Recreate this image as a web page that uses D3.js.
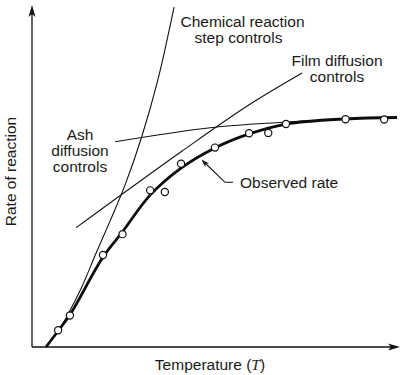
<!DOCTYPE html>
<html>
<head>
<meta charset="utf-8">
<script src="https://cdn.jsdelivr.net/npm/d3@7"></script>
<style>
  body { margin: 0; background: #fff; }
  text { font-family: "Liberation Sans", Arial, sans-serif; font-size: 15.5px; fill: #1a1a1a; }
</style>
</head>
<body>
<div id="chart"></div>
<script>
// Temperature / rate in arbitrary units (0-100 on both axes)
const observedPoints = [
  [7.1, 4.9], [10.3, 9.2], [19.3, 26.9], [24.6, 33.0], [32.1, 45.8], [36.1, 45.3],
  [40.5, 53.6], [49.7, 58.3], [59.0, 62.5], [64.2, 62.6], [69.0, 65.2], [85.2, 66.6], [95.7, 66.5]
];
const observedCurve = [
  [3.8, 0], [7.1, 4.7], [10.3, 9.4], [19.3, 26.3], [24.6, 33.7], [32.1, 44.4],
  [40.5, 52.3], [49.7, 58.2], [59.0, 62.3], [69.0, 65.2], [85.1, 66.7], [99.2, 67.1]
];
const chemicalCurve = [
  [8.2, 6.4], [13.5, 17.5], [17.2, 26.9], [21.2, 36.8], [25.3, 47.4],
  [29.8, 61.4], [34.2, 78.1], [38.6, 99.4]
];
const filmCurve = [[12.0, 34.9], [40.8, 57.3], [58.7, 70.6], [73.4, 80.1]];
const ashCurve = [[22.6, 60.0], [48.4, 64.1], [68.2, 65.7], [84.5, 66.7]];

const width = 409, height = 375;

const svg = d3.select("#chart").append("svg")
    .attr("width", width)
    .attr("height", height);

const x = d3.scaleLinear().domain([0, 100]).range([32, 400]);
const y = d3.scaleLinear().domain([0, 100]).range([347, 5]);

// axes with arrow heads
svg.append("line")
    .attr("x1", x(0)).attr("y1", y(0))
    .attr("x2", x(0)).attr("y2", y(100) + 8)
    .attr("stroke", "#111").attr("stroke-width", 1.3);
svg.append("path")
    .attr("d", `M${x(0)},${y(100)} L${x(0) - 3.5},${y(100) + 12} L${x(0)},${y(100) + 9} L${x(0) + 3.5},${y(100) + 12} Z`)
    .attr("fill", "#111");

svg.append("line")
    .attr("x1", x(0)).attr("y1", y(0))
    .attr("x2", x(100) - 8).attr("y2", y(0))
    .attr("stroke", "#111").attr("stroke-width", 1.3);
svg.append("path")
    .attr("d", `M${x(100)},${y(0)} L${x(100) - 12},${y(0) - 3.5} L${x(100) - 9},${y(0)} L${x(100) - 12},${y(0) + 3.5} Z`)
    .attr("fill", "#111");

const line = d3.line()
    .x(d => x(d[0]))
    .y(d => y(d[1]))
    .curve(d3.curveCatmullRom);

// thin controlling-regime curves
[chemicalCurve, filmCurve, ashCurve].forEach(c => {
    svg.append("path")
        .attr("d", line(c))
        .attr("fill", "none")
        .attr("stroke", "#111")
        .attr("stroke-width", 1.1);
});

// observed rate
svg.append("path")
    .attr("d", line(observedCurve))
    .attr("fill", "none")
    .attr("stroke", "#0d0d0d")
    .attr("stroke-width", 2.8);

svg.selectAll("circle.obs")
    .data(observedPoints)
    .join("circle")
    .attr("class", "obs")
    .attr("cx", d => x(d[0]))
    .attr("cy", d => y(d[1]))
    .attr("r", 3.6)
    .attr("fill", "#fff")
    .attr("stroke", "#111")
    .attr("stroke-width", 1.2);

// labels
function label(lines, cx, y0, dy) {
    lines.forEach((t, i) => {
        svg.append("text")
            .attr("x", cx)
            .attr("y", y0 + i * dy)
            .attr("text-anchor", "middle")
            .text(t);
    });
}
label(["Chemical reaction"], 242.5, 26.7, 0);
label(["step controls"], 238.5, 42.7, 0);
label(["Film diffusion", "controls"], 337, 65.5, 16.2);
label(["Ash", "diffusion", "controls"], 80, 139.5, 16.2);

svg.append("text")
    .attr("x", 240)
    .attr("y", 188)
    .text("Observed rate");

// leader with arrow to the observed curve
svg.append("path")
    .attr("d", "M233,182.3 L225,182.3 L204,162")
    .attr("fill", "none")
    .attr("stroke", "#111")
    .attr("stroke-width", 1.1);
svg.append("path")
    .attr("d", "M201.5,159.5 L209,163.5 L205.5,163.8 L205.3,167.3 Z")
    .attr("fill", "#111");

// axis titles
const xt = svg.append("text")
    .attr("x", 210)
    .attr("y", 370)
    .attr("text-anchor", "middle");
xt.append("tspan").text("Temperature (");
xt.append("tspan")
    .style("font-family", "'Liberation Serif', serif")
    .style("font-style", "italic")
    .text("T");
xt.append("tspan").text(")");

svg.append("text")
    .attr("transform", "translate(15.5,171.5) rotate(-90)")
    .attr("text-anchor", "middle")
    .text("Rate of reaction");
</script>
</body>
</html>
